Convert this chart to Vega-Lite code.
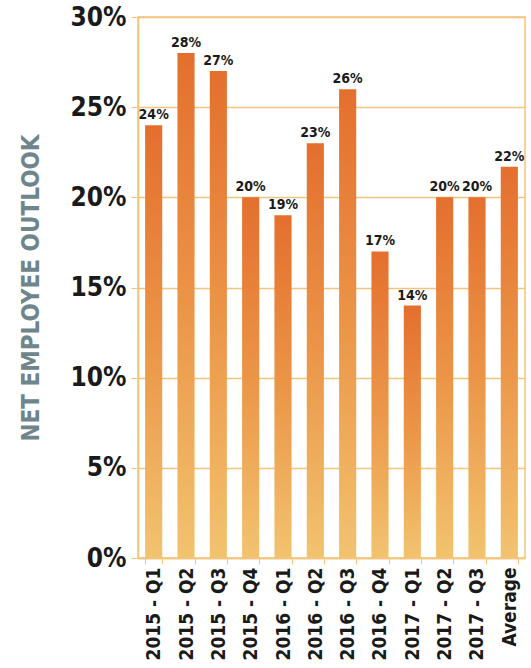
{
  "$schema": "https://vega.github.io/schema/vega-lite/v6.json",
  "autosize": "none",
  "padding": {"left": 138, "top": 17, "right": 6, "bottom": 110},
  "width": 387,
  "height": 541,
  "background": "white",
  "config": {
    "view": {"stroke": "#f5c47c", "strokeWidth": 1.5},
    "font": "DejaVu Sans Condensed, Roboto, sans-serif"
  },
  "data": {
    "values": [
      {"period": "2015 - Q1", "value": 0.24},
      {"period": "2015 - Q2", "value": 0.28},
      {"period": "2015 - Q3", "value": 0.27},
      {"period": "2015 - Q4", "value": 0.20},
      {"period": "2016 - Q1", "value": 0.19},
      {"period": "2016 - Q2", "value": 0.23},
      {"period": "2016 - Q3", "value": 0.26},
      {"period": "2016 - Q4", "value": 0.17},
      {"period": "2017 - Q1", "value": 0.14},
      {"period": "2017 - Q2", "value": 0.20},
      {"period": "2017 - Q3", "value": 0.20},
      {"period": "Average", "value": 0.217}
    ]
  },
  "encoding": {
    "x": {
      "field": "period",
      "type": "nominal",
      "sort": null,
      "scale": {"paddingInner": 0.47, "paddingOuter": 0.22},
      "axis": {
        "title": null,
        "labelAngle": -90,
        "labelAlign": "right",
        "labelBaseline": "middle",
        "labelFont": "DejaVu Sans Condensed, Roboto, sans-serif",
        "labelFontSize": 19,
        "labelFontWeight": "bold",
        "labelColor": "#1a1a1a",
        "labelPadding": 3,
        "tickBand": "extent",
        "tickColor": "#f5c47c",
        "tickSize": 6,
        "domainColor": "#f5c47c",
        "domainWidth": 1.5
      }
    },
    "y": {
      "field": "value",
      "type": "quantitative",
      "scale": {"domain": [0, 0.3]},
      "axis": {
        "values": [0, 0.05, 0.1, 0.15, 0.2, 0.25, 0.3],
        "format": ".0%",
        "title": "NET EMPLOYEE OUTLOOK",
        "titleFont": "DejaVu Sans Condensed, Roboto, sans-serif",
        "titleFontSize": 24,
        "titleFontWeight": "bold",
        "titleColor": "#6e858c",
        "titlePadding": 27,
        "labelFont": "DejaVu Sans Condensed, Roboto, sans-serif",
        "labelFontSize": 26,
        "labelFontWeight": "bold",
        "labelColor": "#1a1a1a",
        "labelPadding": 5,
        "tickColor": "#f5c47c",
        "tickSize": 7,
        "domainColor": "#f5c47c",
        "domainWidth": 1.5,
        "gridColor": "#f5c47c",
        "gridWidth": 1.5
      }
    }
  },
  "layer": [
    {
      "mark": {
        "type": "bar",
        "color": {
          "gradient": "linear",
          "x1": 0, "y1": 0, "x2": 0, "y2": 1,
          "stops": [
            {"offset": 0, "color": "#e46f2e"},
            {"offset": 0.5, "color": "#eb9547"},
            {"offset": 1, "color": "#f2c36f"}
          ]
        }
      }
    },
    {
      "mark": {
        "type": "text",
        "baseline": "bottom",
        "dy": -3,
        "font": "DejaVu Sans Condensed, Roboto, sans-serif",
        "fontSize": 14,
        "fontWeight": "bold",
        "color": "#1a1a1a"
      },
      "encoding": {
        "text": {"field": "value", "type": "quantitative", "format": ".0%"}
      }
    }
  ]
}
